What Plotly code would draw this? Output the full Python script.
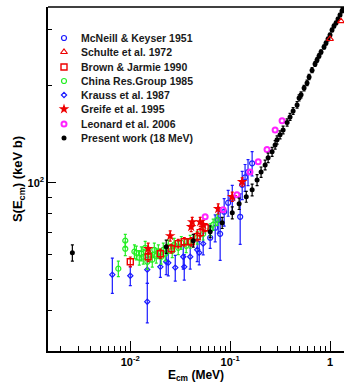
import plotly.graph_objects as go

# ---------------- data (E in MeV, S in keV b) ----------------
mcneill_E = [0.0631, 0.0708, 0.0759, 0.0794, 0.0871, 0.0955, 0.105, 0.126, 0.132, 0.141, 0.151, 0.166]
mcneill_S = [67.5, 72.5, 76.7, 69.4, 81.3, 86.7, 89.2, 78.4, 98.6, 104, 108, 115]
mcneill_err = [5, 7, 7, 12, 8, 8, 9, 14, 10, 10, 10, 10]

schulte_E = [1.0, 1.288]
schulte_S = [280, 318]

brown_E = [0.0100, 0.0151, 0.0200, 0.0257, 0.0302, 0.0347, 0.0407, 0.0468, 0.0501, 0.0562]
brown_S = [56.8, 58.9, 60.2, 62.4, 64.7, 65.6, 65.6, 68.0, 70.0, 72.5]
brown_err = [2, 2, 2, 2, 2, 2, 2, 2, 2, 2]

china_E = [0.00759, 0.00891, 0.00891, 0.0110, 0.0115, 0.0123, 0.0129, 0.0135, 0.0141, 0.0148,
           0.0158, 0.0166, 0.0174, 0.0182, 0.0191, 0.0204, 0.0214, 0.0224, 0.0240, 0.0263,
           0.0275, 0.0302, 0.0324, 0.0363, 0.0398, 0.0468, 0.0537, 0.0631, 0.0676, 0.0741]
china_S = [54.1, 66.1, 62.4, 61.1, 60.6, 58.5, 60.2, 58.9, 62.8, 56.8,
           59.8, 57.7, 61.9, 59.3, 61.1, 58.9, 61.9, 60.2, 63.3, 61.5,
           64.2, 62.8, 65.1, 63.7, 65.6, 67.5, 69.4, 71.5, 74.1, 76.7]
china_err = [3] * 30

krauss_E = [0.00661, 0.0100, 0.0148, 0.0148, 0.0200, 0.0229, 0.0240, 0.0282, 0.0339, 0.0347,
            0.0398, 0.0468, 0.0490, 0.0537]
krauss_S = [51.8, 51.4, 53.7, 42.7, 54.8, 56.8, 56.4, 54.5, 58.9, 54.8,
            58.9, 61.9, 60.6, 64.7]
krauss_err = [6.5, 3.5, 5, 6, 4, 5, 5, 5, 5, 5, 5, 5, 5, 5]

greife_E = [0.0151, 0.0251, 0.0407, 0.0417, 0.0501, 0.0537, 0.0759, 0.105, 0.132]
greife_S = [62.4, 68.4, 73.0, 75.6, 75.6, 74.1, 83.0, 90.5, 100.7]
greife_err = [2.5, 2.5, 2.5, 2.5, 2.5, 2.5, 3, 3, 3]

leonard_E = [0.0562, 0.0851, 0.117, 0.158, 0.191, 0.234, 0.282, 0.331]
leonard_S = [78.4, 82.4, 91.8, 108, 116.2, 127, 146, 156]

present_E = [0.00263, 0.0229, 0.0427, 0.0631, 0.0832, 0.105, 0.123, 0.145, 0.166, 0.186,
             0.204, 0.224, 0.240, 0.263, 0.282, 0.295, 0.316, 0.339, 0.372, 0.398,
             0.427, 0.468, 0.490, 0.513, 0.550, 0.589, 0.617, 0.661, 0.708, 0.741,
             0.776, 0.813, 0.871, 0.912, 0.955, 1.0, 1.047, 1.096, 1.148, 1.202,
             1.259, 1.318, 1.349]
present_S = [60.6, 63.3, 66.1, 70.5, 75.1, 80.7, 86.1, 90.5, 95.1, 102,
             108, 113.7, 119.6, 124.8, 131.2, 136, 141, 146, 154, 160.3,
             167.3, 174.7, 183.6, 187.7, 197, 204.5, 213.4, 224, 234.2, 241,
             248, 255, 264.5, 272, 280, 288, 298.7, 307.3, 314, 323,
             332.4, 342, 349.6]
present_err = [3.5, 3, 3, 3, 3, 3.5, 3.5, 3.5, 4, 4,
               4, 4, 4, 4, 4, 4, 4, 4, 4, 4,
               4, 4, 4, 4, 4, 4, 4, 4, 4, 4,
               4, 4, 4, 4, 4, 4, 4, 4, 4, 4,
               4, 4, 4]

legend_names = ["McNeill & Keyser 1951", "Schulte et al. 1972", "Brown & Jarmie 1990",
                "China Res.Group 1985", "Krauss et al. 1987", "Greife et al. 1995",
                "Leonard et al. 2006", "Present work (18 MeV)"]

x_tickvals = [0.01, 0.1, 1]
x_ticktext = ["10<sup>-2</sup>", "10<sup>-1</sup>", "1"]
y_tickvals = [100]
y_ticktext = ["10<sup>2</sup>"]
y_minor_vals = [30, 40, 50, 60, 70, 80, 90, 200, 300]

# ---------------- styles ----------------
BLUE = "#1a1aff"
RED = "#ee0000"
GREEN = "#22ee22"
MAG = "#ff22ff"
BLK = "#000000"

styles = [
    dict(symbol="circle-open", size=5, color=BLUE, lw=1.2),
    dict(symbol="triangle-up-open", size=6, color=RED, lw=1.2),
    dict(symbol="square-open", size=6, color=RED, lw=1.4),
    dict(symbol="circle-open", size=5, color=GREEN, lw=1.2),
    dict(symbol="diamond-open", size=4, color=BLUE, lw=1.2),
    dict(symbol="star", size=8, color=RED, lw=0),
    dict(symbol="circle-open", size=5, color=MAG, lw=2),
    dict(symbol="circle", size=5, color=BLK, lw=0),
]

fig = go.Figure()


def add_series(E, S, err, st, name):
    mk = dict(symbol=st["symbol"], size=st["size"], color=st["color"])
    if st["lw"]:
        mk["line"] = dict(width=st["lw"], color=st["color"])
    kw = {}
    if err is not None:
        kw["error_y"] = dict(type="data", array=err, color=st["color"], thickness=1.2, width=1.5)
    fig.add_trace(go.Scatter(x=E, y=S, mode="markers", marker=mk, name=name,
                             showlegend=False, **kw))


add_series(krauss_E, krauss_S, krauss_err, styles[4], legend_names[4])
add_series(mcneill_E, mcneill_S, mcneill_err, styles[0], legend_names[0])
add_series(china_E, china_S, china_err, styles[3], legend_names[3])
add_series(brown_E, brown_S, brown_err, styles[2], legend_names[2])
add_series(greife_E, greife_S, greife_err, styles[5], legend_names[5])
add_series(leonard_E, leonard_S, None, styles[6], legend_names[6])
add_series(present_E, present_S, present_err, styles[7], legend_names[7])
add_series(schulte_E, schulte_S, None, styles[1], legend_names[1])

# ---------------- manual legend (pixel-like overlay axes) ----------------
leg_rows = [38, 52, 67, 81, 95, 109, 124, 138]
for name, st, yy in zip(legend_names, styles, leg_rows):
    mk = dict(symbol=st["symbol"], size=st["size"], color=st["color"])
    if st["lw"]:
        mk["line"] = dict(width=st["lw"], color=st["color"])
    fig.add_trace(go.Scatter(x=[64], y=[yy], xaxis="x2", yaxis="y2", mode="markers",
                             marker=mk, showlegend=False, hoverinfo="skip"))
    fig.add_annotation(x=79, y=yy, xref="x2", yref="y2", text="<b>%s</b>" % name,
                       showarrow=False, xanchor="left", yanchor="middle",
                       font=dict(family="Liberation Sans", size=10.5, color="#1a1a1a"))

# top frame line
fig.add_shape(type="line", xref="paper", yref="paper", x0=0, x1=1, y0=1, y1=1,
              line=dict(color="black", width=1.5))

FONT = "Liberation Sans"
fig.update_layout(
    width=344, height=389,
    margin=dict(l=48, r=0, t=7, b=38, autoexpand=False),
    paper_bgcolor="white", plot_bgcolor="white",
    font=dict(family=FONT, size=11, color="black"),
    xaxis=dict(type="log", range=[-2.824, 0.14], showgrid=False, zeroline=False,
               automargin=False,
               showline=True, linecolor="black", linewidth=1.5, mirror=False,
               ticks="inside", ticklen=10, tickwidth=1, tickcolor="black",
               tickvals=x_tickvals, ticktext=["<b>%s</b>" % t for t in x_ticktext],
               tickfont=dict(family=FONT, size=11),
               minor=dict(ticks="inside", ticklen=5, tickwidth=1, tickcolor="black",
                          dtick="D1", showgrid=False),
               title=dict(text="<b>E<sub>cm</sub> (MeV)</b>", font=dict(family=FONT, size=12),
                          standoff=0)),
    yaxis=dict(type="log", range=[1.4771, 2.5466], showgrid=False, zeroline=False,
               automargin=False,
               showline=True, linecolor="black", linewidth=1.5, mirror=False,
               ticks="inside", ticklen=8, tickwidth=1, tickcolor="black",
               tickvals=y_tickvals, ticktext=["<b>%s</b>" % t for t in y_ticktext],
               tickfont=dict(family=FONT, size=11),
               minor=dict(ticks="inside", ticklen=4, tickwidth=1, tickcolor="black",
                          tickvals=y_minor_vals, showgrid=False),
               title=dict(text="<b>S(E<sub>cm</sub>) (keV b)</b>", font=dict(family=FONT, size=13),
                          standoff=2)),
    xaxis2=dict(overlaying="x", range=[48, 344], visible=False, anchor="y2",
                showline=False, showgrid=False, zeroline=False),
    yaxis2=dict(overlaying="y", range=[351, 7], visible=False, anchor="x2", side="left",
                showline=False, showgrid=False, zeroline=False),
)

fig.write_html("out.html", config={"displayModeBar": False},
               post_script="document.body.style.margin='0px';document.body.style.overflow='hidden';")
